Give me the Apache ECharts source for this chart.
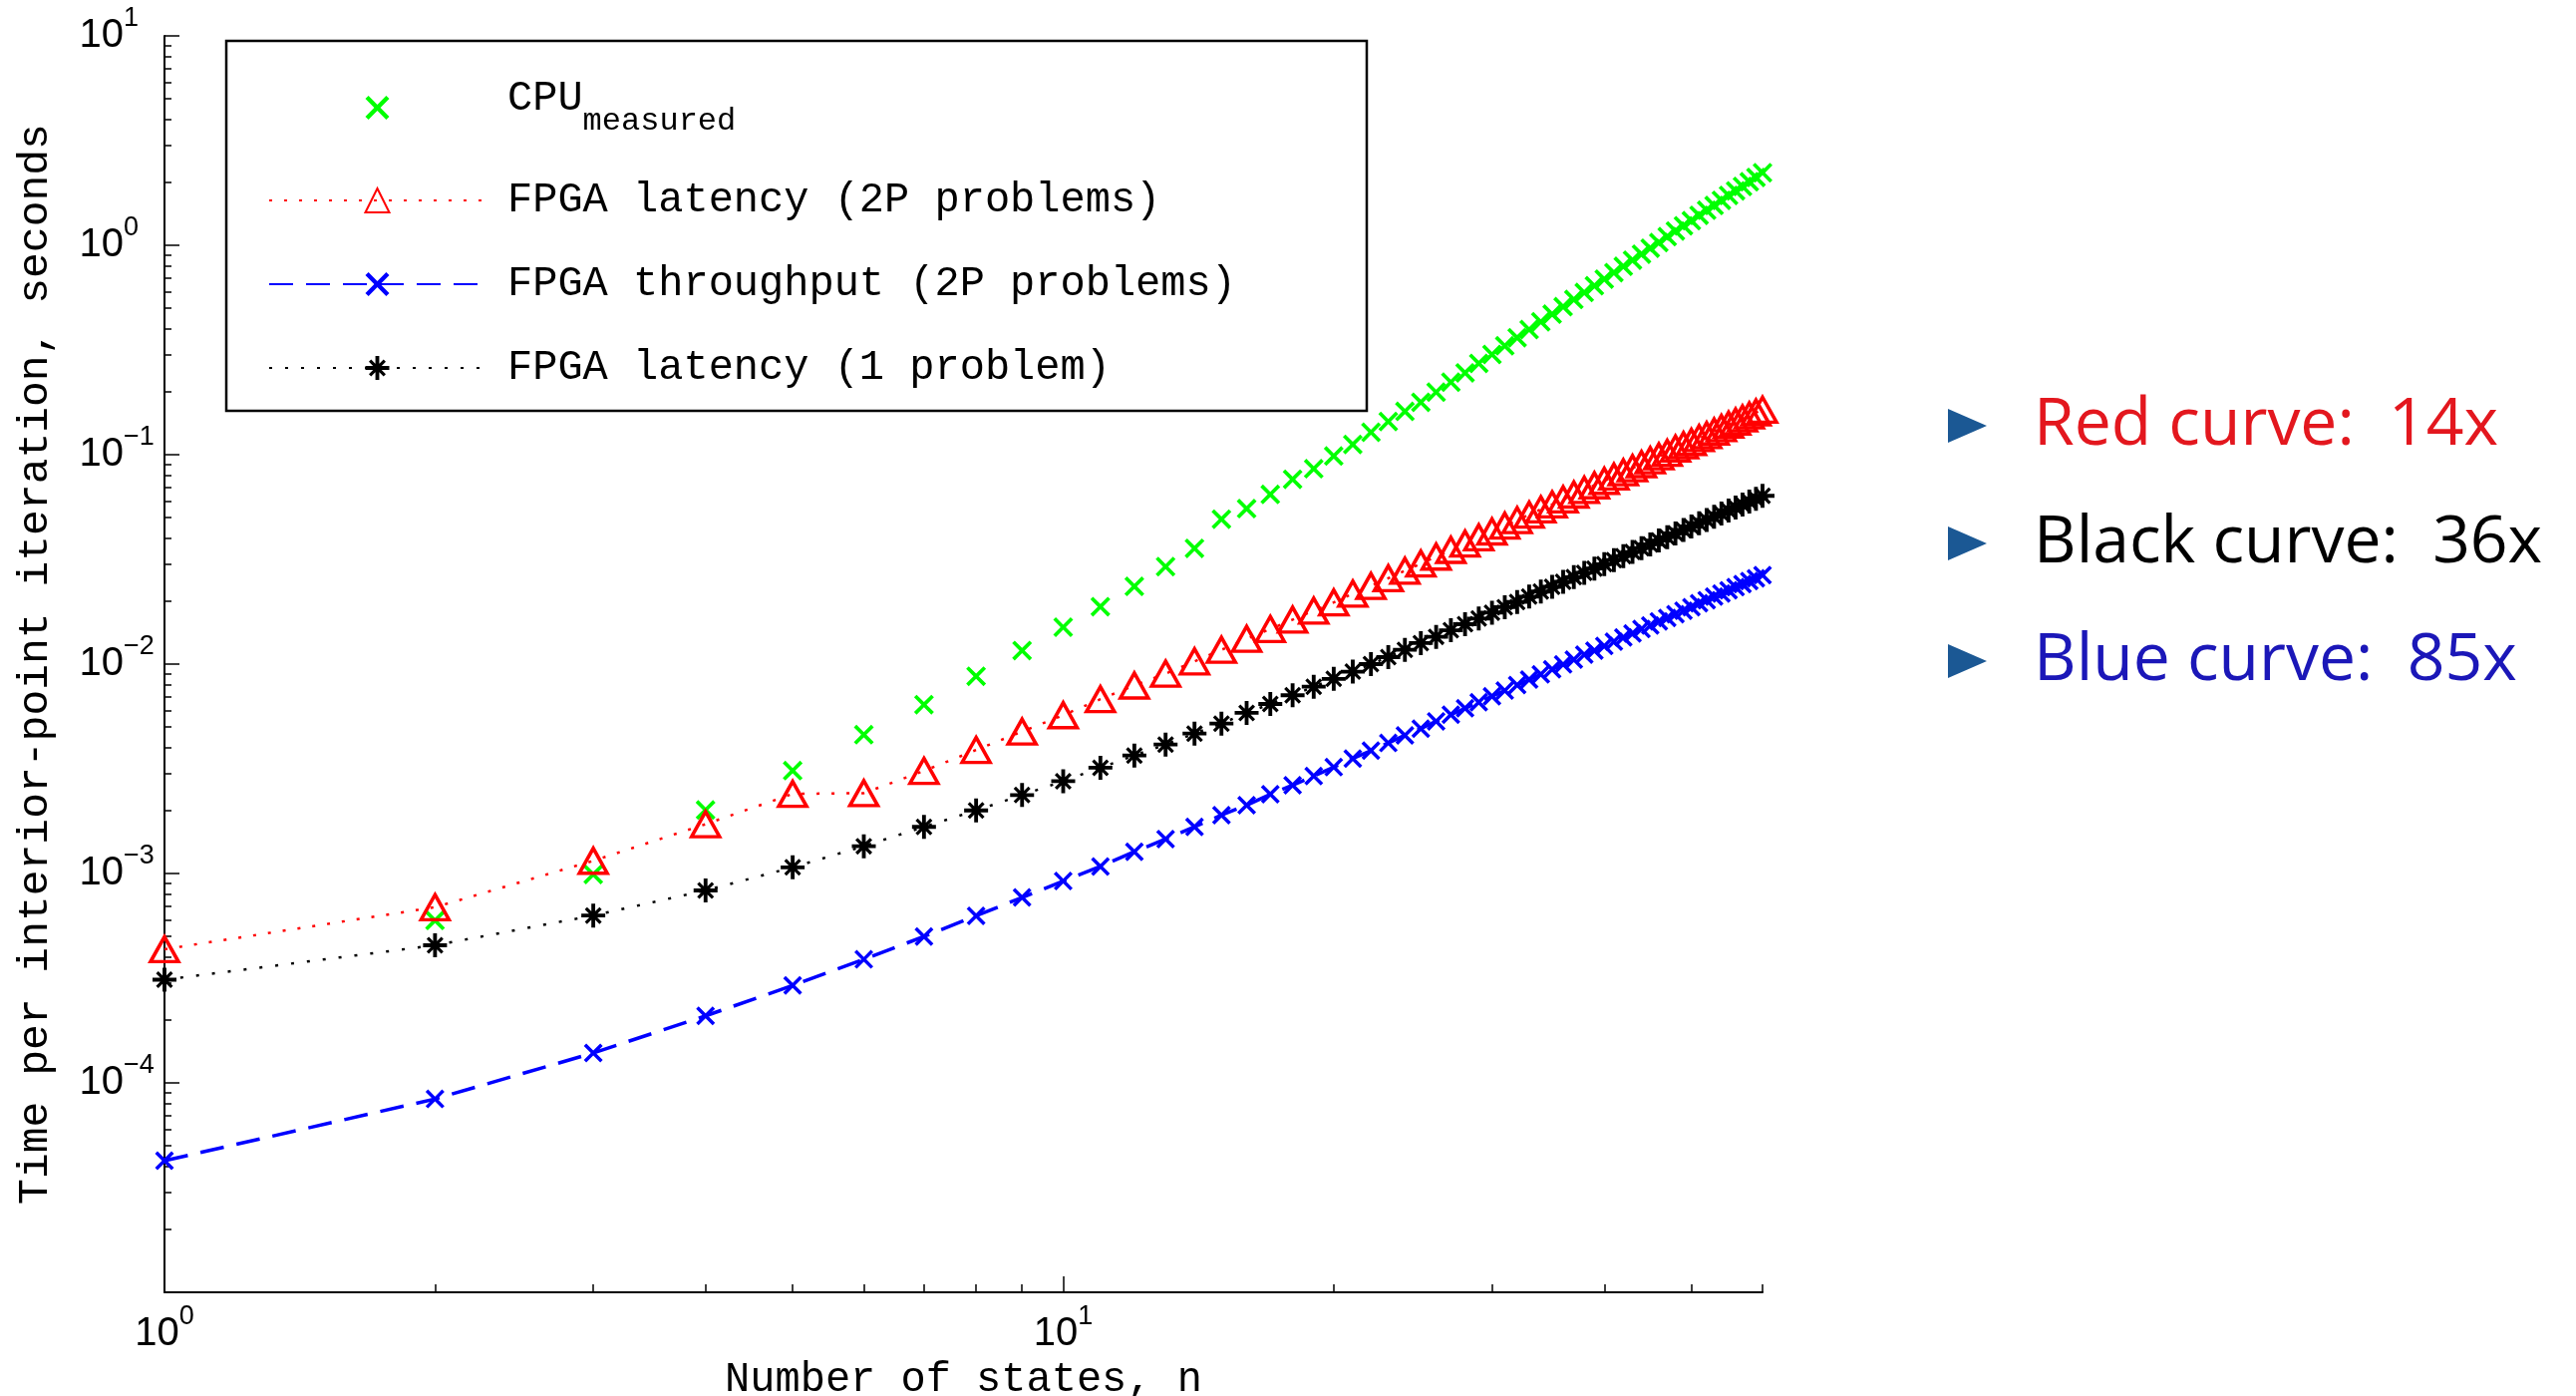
<!DOCTYPE html>
<html>
<head>
<meta charset="utf-8">
<title>Time per interior-point iteration</title>
<script src="https://cdn.jsdelivr.net/npm/echarts@6/dist/echarts.min.js"></script>
<style>
  html, body { margin: 0; padding: 0; background: #fff; }
  #chart { width: 2584px; height: 1400px; }
</style>
</head>
<body>
<div id="chart"></div>
<script>
// number of states n (x axis)
const nStates = [1, 2, 3, 4, 5, 6, 7, 8, 9, 10,
  11, 12, 13, 14, 15, 16, 17, 18, 19, 20,
  21, 22, 23, 24, 25, 26, 27, 28, 29, 30,
  31, 32, 33, 34, 35, 36, 37, 38, 39, 40,
  41, 42, 43, 44, 45, 46, 47, 48, 49, 50,
  51, 52, 53, 54, 55, 56, 57, 58, 59, 60]

// seconds per iteration (CPU has no point at n=1)
const cpuMeasured = [null, 0.000597, 0.00099, 0.00201, 0.0031, 0.0046, 0.0064, 0.00875, 0.0116, 0.015,
  0.0188, 0.0235, 0.0292, 0.0357, 0.0492, 0.0553, 0.0646, 0.0763, 0.0857, 0.0986,
  0.112, 0.128, 0.144, 0.161, 0.178, 0.199, 0.222, 0.246, 0.273, 0.301,
  0.331, 0.362, 0.396, 0.431, 0.469, 0.509, 0.551, 0.595, 0.641, 0.689,
  0.740, 0.794, 0.849, 0.907, 0.968, 1.03, 1.10, 1.17, 1.24, 1.31,
  1.39, 1.47, 1.55, 1.64, 1.73, 1.82, 1.91, 2.01, 2.11, 2.22]

const fpgaLatency2P = [0.000435, 0.00069, 0.00115, 0.00172, 0.0024, 0.00242, 0.00309, 0.00389, 0.00476, 0.0057,
  0.0068, 0.0079, 0.0090, 0.0103, 0.0117, 0.0132, 0.0147, 0.0163, 0.0180, 0.0197,
  0.0217, 0.0236, 0.0257, 0.0279, 0.0302, 0.0326, 0.0351, 0.0376, 0.0403, 0.0430,
  0.0458, 0.0487, 0.0517, 0.0548, 0.0579, 0.0612, 0.0645, 0.0679, 0.0714, 0.0750,
  0.0786, 0.0824, 0.0862, 0.0901, 0.0941, 0.0982, 0.102, 0.107, 0.111, 0.115,
  0.120, 0.124, 0.129, 0.134, 0.139, 0.144, 0.149, 0.154, 0.159, 0.164]

const fpgaThroughput2P = [0.0000425, 0.0000838, 0.000139, 0.000209, 0.000292, 0.000389, 0.0005, 0.000628, 0.000768, 0.00092,
  0.00108, 0.00127, 0.00146, 0.00167, 0.0019, 0.00212, 0.00239, 0.00264, 0.00292, 0.00322,
  0.00354, 0.00386, 0.0042, 0.00457, 0.00492, 0.00533, 0.00573, 0.00615, 0.00657, 0.00702,
  0.00747, 0.00794, 0.00843, 0.00893, 0.00944, 0.00996, 0.0105, 0.0111, 0.0116, 0.0122,
  0.0128, 0.0134, 0.0140, 0.0147, 0.0153, 0.0160, 0.0166, 0.0173, 0.0180, 0.0187,
  0.0195, 0.0202, 0.0210, 0.0217, 0.0225, 0.0233, 0.0241, 0.0249, 0.0257, 0.0266]

const fpgaLatency1 = [0.000311, 0.000454, 0.00063, 0.00083, 0.00107, 0.00135, 0.00167, 0.002, 0.00237, 0.00276,
  0.0032, 0.00366, 0.00413, 0.00466, 0.0052, 0.00585, 0.00645, 0.0071, 0.0078, 0.0085,
  0.0092, 0.0100, 0.0108, 0.0117, 0.0126, 0.0135, 0.0145, 0.0155, 0.0165, 0.0176,
  0.0187, 0.0198, 0.0210, 0.0222, 0.0234, 0.0247, 0.0260, 0.0273, 0.0286, 0.0300,
  0.0314, 0.0328, 0.0343, 0.0358, 0.0373, 0.0389, 0.0404, 0.0421, 0.0437, 0.0454,
  0.0471, 0.0488, 0.0505, 0.0523, 0.0541, 0.0560, 0.0578, 0.0597, 0.0616, 0.0636]

// ticks (log axes, matlab style)
const xMajorTicks = [1, 10]
const xMinorTicks = [2, 3, 4, 5, 6, 7, 8, 9, 20, 30, 40, 50, 60]
const yMajorTicks = [1e-5, 1e-4, 1e-3, 1e-2, 1e-1, 1, 10]
const yLabelTicks = [1e-4, 1e-3, 1e-2, 1e-1, 1, 10]
const yMinorTicks = [2e-5, 3e-5, 4e-5, 5e-5, 6e-5, 7e-5, 8e-5, 9e-5,
  2e-4, 3e-4, 4e-4, 5e-4, 6e-4, 7e-4, 8e-4, 9e-4,
  2e-3, 3e-3, 4e-3, 5e-3, 6e-3, 7e-3, 8e-3, 9e-3,
  2e-2, 3e-2, 4e-2, 5e-2, 6e-2, 7e-2, 8e-2, 9e-2,
  0.2, 0.3, 0.4, 0.5, 0.6, 0.7, 0.8, 0.9,
  2, 3, 4, 5, 6, 7, 8, 9]

const seriesNames = ['CPU measured', 'FPGA latency (2P problems)', 'FPGA throughput (2P problems)', 'FPGA latency (1 problem)']

// side notes
const speedupLabels = ['Red curve:  14x', 'Black curve:  36x', 'Blue curve:  85x']
const speedupColors = ['#e3171e', '#000000', '#1b17b8']

// marker shapes
const crossPath = 'path://M0,1.3L1.3,0L5,3.7L8.7,0L10,1.3L6.3,5L10,8.7L8.7,10L5,6.3L1.3,10L0,8.7L3.7,5Z'
const asteriskPath = 'path://M4.2,0H5.8V4.2H10V5.8H5.8V10H4.2V5.8H0V4.2H4.2Z' +
  'M1.46,2.4L2.4,1.46L5,4.05L7.6,1.46L8.54,2.4L5.95,5L8.54,7.6L7.6,8.54L5,5.95L2.4,8.54L1.46,7.6L4.05,5Z'

const MONO = 'Liberation Mono'
const SANS = 'Liberation Sans'

function pairs(ys) {
  let out = []
  nStates.forEach((n, i) => {
    if (ys[i] != null) out.push([n, ys[i]])
  })
  return out
}

function powLabel(v) {
  const e = Math.round(Math.log10(v))
  return '{b|10}{e|' + String(e).replace('-', '\u2212') + '}'
}

// y labels: "10" sits at a fixed place, exponent in a fixed box
const yTickRich = {
  b: { fontFamily: SANS, fontSize: 40, lineHeight: 62, verticalAlign: 'middle', color: '#000', align: 'left' },
  e: { fontFamily: SANS, fontSize: 27, lineHeight: 27, verticalAlign: 'top', color: '#000', width: 36, align: 'left' }
}
const xTickRich = {
  b: { fontFamily: SANS, fontSize: 40, lineHeight: 62, verticalAlign: 'middle', color: '#000' },
  e: { fontFamily: SANS, fontSize: 27, lineHeight: 27, verticalAlign: 'top', color: '#000' }
}

let chart = echarts.init(document.getElementById('chart'), null, { renderer: 'canvas' })

let option = {
  backgroundColor: '#fff',
  animation: false,
  grid: { left: 165, right: 816, top: 36, bottom: 104, containLabel: false, outerBoundsMode: 'none' },
  xAxis: [
    {
      type: 'log', logBase: 10, min: 1, max: 60, position: 'bottom',
      name: 'Number of states, n', nameLocation: 'middle', nameGap: 62,
      nameTextStyle: { fontFamily: MONO, fontSize: 42, color: '#000' },
      axisLine: { show: true, lineStyle: { color: '#000', width: 2 } },
      axisTick: { show: true, inside: true, length: 16, customValues: xMajorTicks, lineStyle: { color: '#000', width: 1.5 } },
      axisLabel: { show: true, margin: 11, customValues: xMajorTicks, formatter: powLabel, rich: xTickRich },
      splitLine: { show: false }
    },
    {
      // minor ticks only
      type: 'log', logBase: 10, min: 1, max: 60, position: 'bottom',
      axisLine: { show: false },
      axisTick: { show: true, inside: true, length: 8, customValues: xMinorTicks, lineStyle: { color: '#000', width: 1.5 } },
      axisLabel: { show: false },
      splitLine: { show: false }
    }
  ],
  yAxis: [
    {
      type: 'log', logBase: 10, min: 1e-5, max: 10, position: 'left',
      name: 'Time per interior-point iteration, seconds', nameLocation: 'middle', nameGap: 108,
      nameTextStyle: { fontFamily: MONO, fontSize: 43, color: '#000' },
      axisLine: { show: true, lineStyle: { color: '#000', width: 2 } },
      axisTick: { show: true, inside: true, length: 15, customValues: yMajorTicks, lineStyle: { color: '#000', width: 1.5 } },
      axisLabel: { show: true, margin: 5, customValues: yLabelTicks, formatter: powLabel, rich: yTickRich },
      splitLine: { show: false }
    },
    {
      type: 'log', logBase: 10, min: 1e-5, max: 10, position: 'left', offset: 0,
      axisLine: { show: false },
      axisTick: { show: true, inside: true, length: 7, customValues: yMinorTicks, lineStyle: { color: '#000', width: 1.5 } },
      axisLabel: { show: false },
      splitLine: { show: false }
    }
  ],
  legend: {
    orient: 'vertical',
    left: 269,
    top: 78,
    padding: 0,
    itemGap: 42,
    itemWidth: 217,
    itemHeight: 30,
    selectedMode: false,
    data: [
      { name: seriesNames[0], lineStyle: { opacity: 0 } },
      seriesNames[1], seriesNames[2], seriesNames[3]
    ],
    formatter: function (name) {
      if (name === seriesNames[0]) return '{a|CPU}{s|measured}'
      return '{n|' + name + '}'
    },
    textStyle: {
      color: '#000',
      rich: {
        a: { fontFamily: MONO, fontSize: 42, lineHeight: 46, verticalAlign: 'top', color: '#000', padding: [0, 0, 0, 17] },
        s: { fontFamily: MONO, fontSize: 32, lineHeight: 60, verticalAlign: 'bottom', color: '#000' },
        n: { fontFamily: MONO, fontSize: 42, lineHeight: 42, color: '#000', padding: [0, 0, 0, 17] }
      }
    }
  },
  graphic: [
    // legend box
    {
      type: 'rect', z: 1,
      shape: { x: 227, y: 41, width: 1144, height: 371 },
      style: { fill: 'none', stroke: '#000', lineWidth: 2.5 }
    }
  ],
  series: [
    {
      name: seriesNames[0], type: 'line', clip: false, showAllSymbol: true,
      data: pairs(cpuMeasured),
      symbol: crossPath, symbolSize: 20, symbolKeepAspect: true,
      itemStyle: { color: '#00ff00' },
      lineStyle: { color: 'rgba(0,0,0,0)', width: 0, opacity: 0 }
    },
    {
      name: seriesNames[1], type: 'line', clip: false, showAllSymbol: true,
      data: pairs(fpgaLatency2P),
      symbol: 'triangle', symbolSize: [28, 25],
      itemStyle: { color: 'rgba(255,0,0,0)', borderColor: '#ff0000', borderWidth: 3.5 },
      lineStyle: { color: '#ff0000', width: 2.5, type: [3, 12] }
    },
    {
      name: seriesNames[2], type: 'line', clip: false, showAllSymbol: true,
      data: pairs(fpgaThroughput2P),
      symbol: crossPath, symbolSize: 19, symbolKeepAspect: true,
      itemStyle: { color: '#0000ff' },
      lineStyle: { color: '#0000ff', width: 3.5, type: [24, 13] }
    },
    {
      name: seriesNames[3], type: 'line', clip: false, showAllSymbol: true,
      data: pairs(fpgaLatency1),
      symbol: asteriskPath, symbolSize: 24, symbolKeepAspect: true,
      itemStyle: { color: '#000000' },
      lineStyle: { color: '#000000', width: 2.5, type: [3, 13] }
    }
  ]
}

// bullets on the right
const rowY = [427, 545, 663]
speedupLabels.forEach((txt, i) => {
  option.graphic.push({
    type: 'polygon',
    shape: { points: [[1954, rowY[i] - 17], [1993, rowY[i]], [1954, rowY[i] + 17]] },
    style: { fill: '#1b5894' }
  })
  option.graphic.push({
    type: 'text',
    x: 2040, y: rowY[i],
    style: {
      text: txt, fill: speedupColors[i],
      fontFamily: 'Open Sans', fontSize: 66,
      align: 'left', verticalAlign: 'middle',
      textAlign: 'left', textVerticalAlign: 'middle'
    }
  })
})

chart.setOption(option)
</script>
</body>
</html>
